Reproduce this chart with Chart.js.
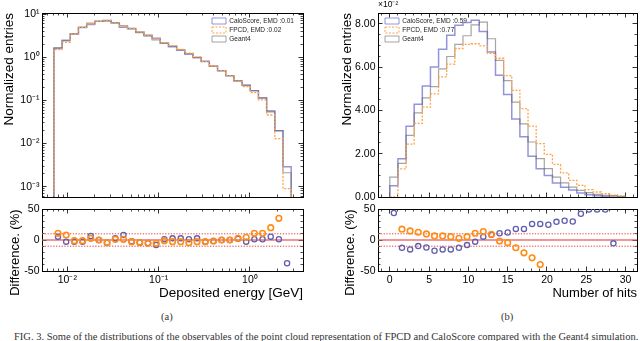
<!DOCTYPE html>
<html lang="en">
<head>
<meta charset="utf-8">
<title>Deposited energy and number of hits</title>
<script src="https://cdn.jsdelivr.net/npm/chart.js@4.4.1/dist/chart.umd.min.js"></script>
<style>
  html, body { margin: 0; padding: 0; background: #fff; }
  #fig { position: relative; width: 640px; height: 341px; overflow: hidden; }
  #fig canvas { position: absolute; }
  .caption { position: absolute; font-family: 'Liberation Serif', 'DejaVu Serif', serif; color: #333; white-space: nowrap; }
</style>
</head>
<body>
<div id="fig">
  <canvas id="energyHist" width="320" height="200" style="left:0px;top:0px"></canvas>
  <canvas id="energyDiff" width="320" height="102" style="left:0px;top:200px"></canvas>
  <canvas id="hitsHist" width="320" height="200" style="left:320px;top:0px"></canvas>
  <canvas id="hitsDiff" width="320" height="102" style="left:320px;top:200px"></canvas>
  <div class="caption" style="left:161px;top:311px;font-size:10.5px">(a)</div>
  <div class="caption" style="left:501px;top:311px;font-size:10.5px">(b)</div>
  <div class="caption" style="left:14px;top:331px;font-size:10.5px">FIG. 3. Some of the distributions of the observables of the point cloud representation of FPCD and CaloScore compared with the Geant4 simulation.</div>
</div>
<script>
// deposited energy histogram, log-spaced bin edges in GeV
const energyEdges = [0.007129, 0.008762, 0.01077, 0.01324, 0.01627, 0.02000, 0.02458, 0.03021,
  0.03714, 0.04565, 0.05611, 0.06896, 0.08476, 0.1042, 0.1281, 0.1574, 0.1935, 0.2378,
  0.2923, 0.3593, 0.4416, 0.5428, 0.6671, 0.8200, 1.008, 1.239, 1.523, 1.872, 2.300, 2.828];
const energyGeant4 = [1.69, 2.42, 3.45, 4.9, 6.2, 6.85, 6.9, 6.4, 5.45, 4.6, 3.75, 3.1, 2.55, 2.15,
  1.82, 1.5, 1.2, 1.0, 0.79, 0.62, 0.49, 0.376, 0.288, 0.221, 0.17, 0.115, 0.058, 0.020, 0.0021];
const energyCaloScore = [1.60, 2.49, 3.54, 5.03, 5.80, 6.85, 7.20, 6.23, 5.01, 4.69, 3.90, 3.26, 2.76,
  2.13, 1.77, 1.46, 1.19, 0.973, 0.81, 0.63, 0.49, 0.376, 0.282, 0.227, 0.168, 0.114, 0.055, 0.0198, 0.0029];
const energyFPCD = [1.51, 2.22, 3.49, 4.95, 6.03, 6.85, 7.20, 6.33, 5.39, 4.72, 3.91, 3.27, 2.69,
  2.17, 1.87, 1.54, 1.25, 1.027, 0.81, 0.63, 0.49, 0.376, 0.280, 0.211, 0.152, 0.103, 0.046, 0.0130, 0.0009];
const energyDiffCaloScore = [5.4, -2.7, -2.7, -2.7, 6.5, 0, -4.3, 2.7, 8.1, -2, -4, -5, -8.1, 1.1,
  2.7, 2.7, 1.1, 2.7, -2.7, -1.6, 0, 0, 2, -2.7, 1.1, 1.1, 5.4, 1.1, -37.6];
const energyDiffFPCD = [10.8, 8.1, -1.1, -1.1, 2.7, 0, -4.3, 1.1, 1.1, -2.7, -4.3, -5.4, -5.4, -1.1,
  -2.7, -2.7, -4.3, -2.7, -2.7, -1.6, 0, 0, 2.7, 4.3, 10.8, 10.8, 19.9, 35, null];

// number of hits histogram, values in units of 1e-2
const hitsEdges = [0, 1.034, 2.069, 3.103, 4.138, 5.172, 6.207, 7.241, 8.276, 9.310, 10.345, 11.379,
  12.414, 13.448, 14.483, 15.517, 16.552, 17.586, 18.621, 19.655, 20.690, 21.724, 22.759, 23.793,
  24.828, 25.862, 26.897, 27.931, 28.966, 30];
const hitsGeant4 = [0.92, 1.55, 2.85, 3.89, 4.58, 5.1, 5.92, 6.49, 7.05, 7.45, 7.95, 8.08, 7.31, 6.31,
  5.38, 4.38, 3.38, 2.54, 1.77, 1.31, 0.92, 0.65, 0.46, 0.31, 0.20, 0.12, 0.08, 0.05, 0.03];
const hitsCaloScore = [0.52, 1.77, 3.27, 4.28, 5.13, 6.0, 6.83, 7.47, 7.93, 8.06, 8.16, 7.65, 6.7, 5.62,
  4.73, 3.6, 2.78, 1.88, 1.31, 0.99, 0.65, 0.45, 0.32, 0.18, 0.10, 0.06, 0.04, 0.053, 0];
const hitsFPCD = [0, 1.30, 2.44, 3.40, 4.15, 4.76, 5.55, 6.14, 6.86, 7.05, 7.08, 6.98, 6.64, 6.41,
  5.61, 4.93, 4.08, 3.27, 2.47, 1.97, 1.51, 1.11, 0.77, 0.54, 0.34, 0.23, 0.15, 0.09, 0.05];
const hitsDiffCaloScore = [43.5, -12.5, -15.2, -9.8, -12, -17.4, -15.2, -15.2, -12.5, -8.2, -2.7, 5.4,
  8.5, 10.9, 12, 17.9, 17.9, 26, 26, 24.5, 29.3, 31, 29.9, 42.4, 49, 49, 49, -5.4, null];
const hitsDiffFPCD = [null, 17.4, 14.7, 12.5, 9.8, 6.5, 6.5, 5.4, 2.7, 5.4, 10.9, 13.6, 9.2, -1.6,
  -4.3, -12.5, -20.7, -28.8, -39.7, null, null, null, null, null, null, null, null, null, null];

const energyLegend = ['CaloScore, EMD :0.01', 'FPCD, EMD :0.02', 'Geant4'];
const hitsLegend = ['CaloScore, EMD :0.59', 'FPCD, EMD :0.77', 'Geant4'];
const diffBand = [-10, 0, 10];

const caloLine = 'rgba(112, 112, 205, 0.75)';
const fpcdLine = '#ffa446';
const geantLine = 'rgba(105, 105, 105, 0.6)';
const caloMark = '#5f5fae';
const fpcdMark = '#ff8c17';

Chart.defaults.font.family = "'Liberation Sans', Arial, Helvetica, sans-serif";
Chart.defaults.color = '#000';

const SUP = { '-': '\u207b', '0': '\u2070', '1': '\u00b9', '2': '\u00b2', '3': '\u00b3' };
const isDecade = (v) => v > 0 && Math.abs(Math.log10(v) - Math.round(Math.log10(v))) < 1e-6;
const isLogMinor = (v) => {
  const m = v / Math.pow(10, Math.floor(Math.log10(v) + 1e-9));
  return Math.abs(m - Math.round(m)) < 1e-6 && Math.round(m) > 1 && Math.round(m) < 10;
};
const every = (n) => (v) => Math.abs(v / n - Math.round(v / n)) < 1e-6;
const powLabel = (v) => {
  if (!isDecade(v)) return '';
  const e = Math.round(Math.log10(v));
  return '10' + String(e).split('').map((c) => SUP[c]).join('');
};

function stepPoints(edges, values, floor) {
  const pts = [{ x: edges[0], y: floor }];
  values.forEach((v, i) => pts.push({ x: edges[i], y: v }));
  pts.push({ x: edges[edges.length - 1], y: values[values.length - 1] });
  pts.push({ x: edges[edges.length - 1], y: floor });
  return pts;
}

function binCenters(edges, logBins) {
  return edges.slice(0, -1).map((e, i) => (logBins ? Math.sqrt(e * edges[i + 1]) : (e + edges[i + 1]) / 2));
}

function histSet(label, color, values, edges, floor, order, dash) {
  return {
    legendText: label,
    data: stepPoints(edges, values, floor),
    borderColor: color,
    borderWidth: dash ? 1.3 : (order === 3 ? 1.5 : 1.2),
    borderDash: dash || [],
    stepped: 'before',
    pointRadius: 0,
    fill: false,
    order,
  };
}

function markSet(color, values, xs, width, radius, order) {
  return {
    data: values.map((y, i) => ({ x: xs[i], y })),
    showLine: false,
    pointRadius: radius,
    pointBorderWidth: width,
    pointBorderColor: color,
    pointBackgroundColor: 'rgba(0,0,0,0)',
    order,
  };
}

function bandSets(xMin, xMax) {
  return diffBand.map((y) => ({
    data: [{ x: xMin, y }, { x: xMax, y }],
    borderColor: y === 0 ? 'rgba(232, 80, 80, 0.6)' : '#e8453f',
    borderWidth: y === 0 ? 1.8 : 1,
    borderDash: y === 0 ? [] : [1.3, 1.5],
    pointRadius: 0,
    order: 5,
  }));
}

function buildScales(spec) {
  const scales = {};
  const sides = [
    { id: 'x', position: 'bottom', axis: spec.x, size: spec.size.bottom, labels: spec.x.showLabels, title: spec.x.title },
    { id: 'xTop', position: 'top', axis: spec.x, size: spec.size.top, title: spec.topNote },
    { id: 'y', position: 'left', axis: spec.y, size: spec.size.left, labels: true, title: spec.y.title },
    { id: 'yRight', position: 'right', axis: spec.y, size: spec.size.right },
  ];
  sides.forEach((side) => {
    const horizontal = side.position === 'top' || side.position === 'bottom';
    const fix = (s, v) => {
      if (horizontal) s.height = v; else s.width = v;
      s.paddingLeft = 0; s.paddingRight = 0; s.paddingTop = 0; s.paddingBottom = 0;
    };
    const base = {
      type: side.axis.type,
      min: side.axis.min,
      max: side.axis.max,
      position: side.position,
      ticks: { display: false, autoSkip: false, stepSize: side.axis.step, maxTicksLimit: 100, includeBounds: false, maxRotation: 0 },
    };
    scales[side.id] = {
      ...base,
      weight: 1,
      ticks: { ...base.ticks, display: !!side.labels, callback: side.axis.label, padding: 7, font: { size: 10.5 }, color: '#000' },
      grid: { drawOnChartArea: false, tickLength: -4.5, tickWidth: 0.8,
        tickColor: (c) => (side.axis.major(c.tick.value) ? '#000' : 'rgba(0,0,0,0)') },
      border: { display: true, color: '#000', width: 1 },
      title: side.title || { display: false },
      afterFit: (s) => fix(s, side.size),
    };
    scales[side.id + 'Minor'] = {
      ...base,
      weight: 0,
      grid: { drawOnChartArea: false, tickLength: -2.5, tickWidth: 0.7,
        tickColor: (c) => (side.axis.minor(c.tick.value) ? '#000' : 'rgba(0,0,0,0)') },
      border: { display: false },
      afterFit: (s) => fix(s, 0),
    };
  });
  return scales;
}

// moves the chartArea legend to a spot inside the plot frame
const legendInside = {
  id: 'legendInside',
  beforeDraw(chart, args, opts) {
    const lg = chart.legend;
    if (!lg || opts.x === undefined) return;
    const area = chart.chartArea;
    lg.left = area.left + opts.x;
    lg.top = area.top + opts.y;
    lg.right = lg.left + lg.width;
    lg.bottom = area.bottom;
  },
};

function legendConfig() {
  return {
    display: true,
    position: 'chartArea',
    align: 'start',
    labels: {
      boxWidth: 14,
      boxHeight: 6,
      padding: 2.5,
      font: { size: 6.5 },
      color: '#222',
      generateLabels: (chart) => chart.data.datasets
        .filter((d) => d.legendText)
        .map((d) => ({
          text: d.legendText,
          fillStyle: 'rgba(0,0,0,0)',
          strokeStyle: d.borderColor,
          fontColor: '#222',
          lineWidth: 1,
          lineDash: d.borderDash || [],
          hidden: false,
          datasetIndex: chart.data.datasets.indexOf(d),
        })),
    },
  };
}

function makeChart(id, spec) {
  return new Chart(document.getElementById(id), {
    type: 'line',
    data: { datasets: spec.datasets },
    options: {
      responsive: false,
      animation: false,
      events: [],
      layout: { padding: 0, autoPadding: false },
      scales: buildScales(spec),
      plugins: {
        tooltip: { enabled: false },
        legend: spec.legendSpot ? legendConfig() : { display: false },
        legendInside: spec.legendSpot || false,
      },
    },
    plugins: [legendInside],
  });
}

const titleFont = { size: 13.5 };
const energyAxis = {
  type: 'logarithmic', min: 0.00528, max: 3.81,
  major: isDecade, minor: isLogMinor, label: powLabel,
};
const hitsAxis = {
  type: 'linear', min: -1.5, max: 31.45, step: 1,
  major: every(5), minor: (v) => !every(5)(v), label: (v) => (every(5)(v) ? String(v) : ''),
};
const diffAxis = {
  type: 'linear', min: -50, max: 50, step: 10,
  major: every(50), minor: (v) => !every(50)(v), label: (v) => (every(50)(v) ? String(v) : ''),
};

const energyCenters = binCenters(energyEdges, true);
const hitsCenters = binCenters(hitsEdges, false);

makeChart('energyHist', {
  size: { left: 42, right: 17, top: 13, bottom: 3 },
  x: { ...energyAxis, showLabels: false },
  y: {
    type: 'logarithmic', min: 0.000575, max: 10.7,
    major: isDecade, minor: isLogMinor, label: powLabel,
    title: { display: true, text: 'Normalized entries', align: 'end', font: titleFont, padding: { top: 1, bottom: 0 } },
  },
  legendSpot: { x: 167.5, y: 2.25 },
  datasets: [
    histSet(energyLegend[0], caloLine, energyCaloScore, energyEdges, 1e-5, 3),
    histSet(energyLegend[1], fpcdLine, energyFPCD, energyEdges, 1e-5, 1, [2, 1.5]),
    histSet(energyLegend[2], geantLine, energyGeant4, energyEdges, 1e-5, 2),
  ],
});

makeChart('energyDiff', {
  size: { left: 42, right: 17, top: 9, bottom: 31 },
  x: {
    ...energyAxis, showLabels: true,
    title: { display: true, text: 'Deposited energy [GeV]', align: 'end', font: titleFont, padding: { top: 0, bottom: 1 } },
  },
  y: {
    ...diffAxis,
    title: { display: true, text: 'Difference. (%)\u00a0\u00a0\u00a0\u00a0\u00a0\u00a0\u00a0', font: { size: 13 }, padding: { top: 8, bottom: 0 } },
  },
  datasets: [
    markSet(fpcdMark, energyDiffFPCD, energyCenters, 1.6, 2.8, 1),
    markSet(caloMark, energyDiffCaloScore, energyCenters, 1.3, 2.6, 2),
    ...bandSets(energyAxis.min, energyAxis.max),
  ],
});

makeChart('hitsHist', {
  size: { left: 58, right: 3, top: 13, bottom: 3 },
  x: { ...hitsAxis, showLabels: false },
  y: {
    type: 'linear', min: 0, max: 8.5, step: 0.5,
    major: every(2), minor: (v) => !every(2)(v), label: (v) => (every(2)(v) ? v.toFixed(2) : ''),
    title: { display: true, text: 'Normalized entries', align: 'end', font: titleFont, padding: { top: 19, bottom: 0 } },
  },
  topNote: { display: true, text: '\u00d710\u207b\u00b2', align: 'start', font: { size: 8.5 }, padding: { top: 0, bottom: 0 } },
  legendSpot: { x: 4.5, y: 2.25 },
  datasets: [
    histSet(hitsLegend[0], caloLine, hitsCaloScore, hitsEdges, 0, 3),
    histSet(hitsLegend[1], fpcdLine, hitsFPCD, hitsEdges, 0, 1, [2, 1.5]),
    histSet(hitsLegend[2], geantLine, hitsGeant4, hitsEdges, 0, 2),
  ],
});

makeChart('hitsDiff', {
  size: { left: 58, right: 3, top: 9, bottom: 31 },
  x: {
    ...hitsAxis, showLabels: true,
    title: { display: true, text: 'Number of hits', align: 'end', font: { size: 13 }, padding: { top: 0, bottom: 1 } },
  },
  y: {
    ...diffAxis,
    title: { display: true, text: 'Difference. (%)\u00a0\u00a0\u00a0\u00a0\u00a0\u00a0\u00a0', font: { size: 13 }, padding: { top: 23, bottom: 0 } },
  },
  datasets: [
    markSet(fpcdMark, hitsDiffFPCD, hitsCenters, 1.6, 2.8, 1),
    markSet(caloMark, hitsDiffCaloScore, hitsCenters, 1.3, 2.6, 2),
    ...bandSets(hitsAxis.min, hitsAxis.max),
  ],
});
</script>
</body>
</html>
